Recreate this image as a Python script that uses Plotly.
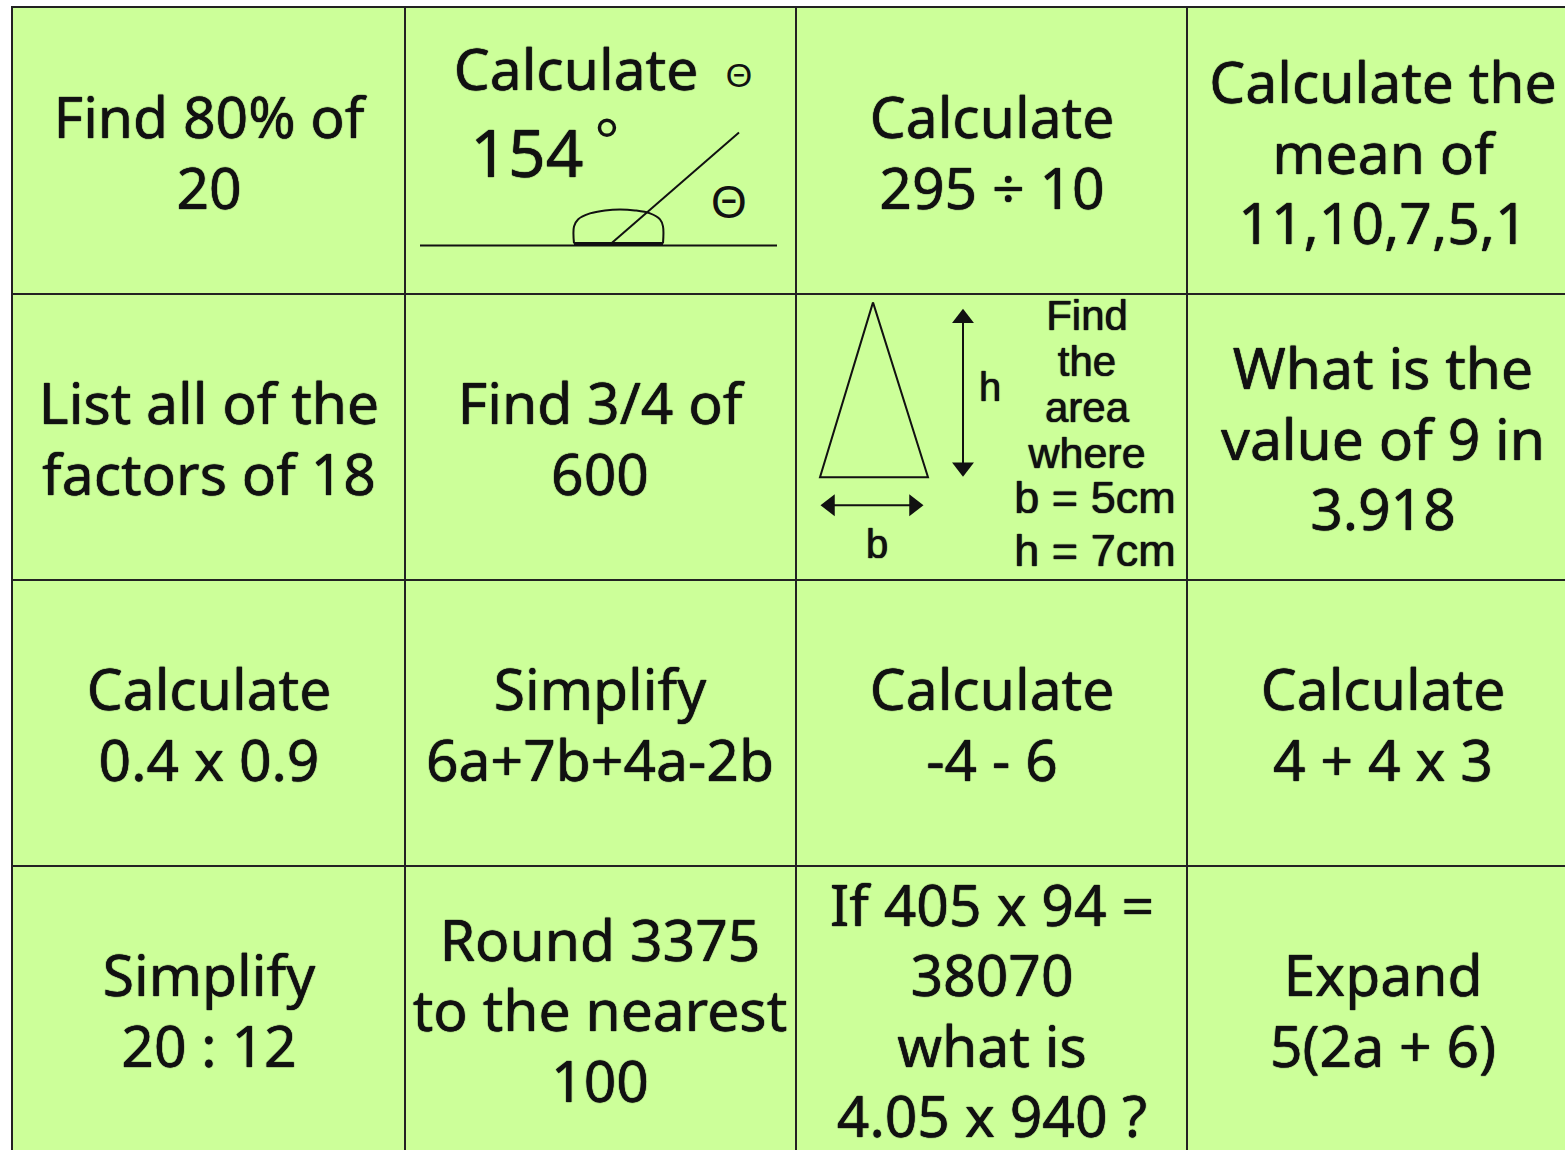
import plotly.graph_objects as go

# Grid of the worksheet in pixels
column_lines = [404.5, 796, 1187]
row_lines = [294, 580, 866]
column_centers = [209, 600, 992, 1383]
row_centers = [159, 445, 731, 1017]
line_step = 70.5

# Text of each cell, row by row
cells = [
    [["Find 80% of", "20"], [], ["Calculate", "295 ÷ 10"], ["Calculate the", "mean of", "11,10,7,5,1"]],
    [["List all of the", "factors of 18"], ["Find 3/4 of", "600"], [], ["What is the", "value of 9 in", "3.918"]],
    [["Calculate", "0.4 x 0.9"], ["Simplify", "6a+7b+4a-2b"], ["Calculate", "-4 - 6"], ["Calculate", "4 + 4 x 3"]],
    [["Simplify", "20 : 12"], ["Round 3375", "to the nearest", "100"], ["If 405 x 94 =", "38070", "what is", "4.05 x 940 ?"], ["Expand", "5(2a + 6)"]],
]

# Angle diagram
base_x = [420, 777]
base_y = [245, 245]
ray_x = [610, 739]
ray_y = [244, 132]
arc_x = [574, 574, 578, 590, 605, 620, 635, 650, 660, 663, 663]
arc_y = [243, 226, 219, 213, 210, 209, 210, 213, 219, 226, 243]
arc_floor_x = [574, 663]
arc_floor_y = [243, 243]
angle_text = ["Calculate", "154"]
angle_text_x = [576, 527]
angle_text_y = [75, 160]
angle_text_size = [57, 66]
theta_text = ["Θ", "Θ", "°"]
theta_text_x = [739, 729, 607]
theta_text_y = [78, 206, 148]
theta_text_size = [34, 46, 66]

# Triangle diagram
triangle_x = [873, 820, 928, 873]
triangle_y = [302, 477, 477, 302]
height_x = [963, 963]
height_y = [312, 472]
width_x = [826, 918]
width_y = [505, 505]
arrow_x = [963, 963, 830, 914]
arrow_y = [318, 467, 505, 505]
arrow_symbols = ["triangle-up", "triangle-down", "triangle-left", "triangle-right"]
triangle_text = ["h", "b", "Find", "the", "area", "where", "b = 5cm", "h = 7cm"]
triangle_text_x = [990, 877, 1087, 1087, 1087, 1087, 1095, 1095]
triangle_text_y = [391, 548, 319, 365, 411, 457, 501, 554]
triangle_text_size = [40, 40, 42, 42, 42, 43, 45, 45]

INK = "#111111"
FONT = "Noto Sans"
SMALL_FONT = "Liberation Sans"
HEAVY = "0 0 1px #111111, 0 0 1px #111111"

fig = go.Figure()

# cell text
xs, ys, labels = [], [], []
for r, row in enumerate(cells):
    for c, lines in enumerate(row):
        for i, line in enumerate(lines):
            xs.append(column_centers[c])
            ys.append(row_centers[r] + (i - (len(lines) - 1) / 2) * line_step)
            labels.append(line)
fig.add_trace(go.Scatter(x=xs, y=ys, text=labels, mode="text", hoverinfo="skip",
                         textfont=dict(family=FONT, size=57, color=INK, shadow=HEAVY)))

# line drawings
for lx, ly, w, shape in [(base_x, base_y, 2, "linear"), (ray_x, ray_y, 2, "linear"), (arc_x, arc_y, 2, "spline"),
                         (arc_floor_x, arc_floor_y, 3, "linear"), (triangle_x, triangle_y, 2, "linear"),
                         (height_x, height_y, 2, "linear"), (width_x, width_y, 2, "linear")]:
    fig.add_trace(go.Scatter(x=lx, y=ly, mode="lines", hoverinfo="skip", line=dict(color=INK, width=w, shape=shape)))

fig.add_trace(go.Scatter(x=arrow_x, y=arrow_y, mode="markers", hoverinfo="skip",
                         marker=dict(symbol=arrow_symbols, size=19, color=INK, line_width=0)))

fig.add_trace(go.Scatter(x=angle_text_x, y=angle_text_y, text=angle_text, mode="text", hoverinfo="skip",
                         textfont=dict(family=FONT, size=angle_text_size, color=INK, shadow=HEAVY)))
fig.add_trace(go.Scatter(x=theta_text_x, y=theta_text_y, text=theta_text, mode="text", hoverinfo="skip",
                         textfont=dict(family=SMALL_FONT, size=theta_text_size, color=INK)))
fig.add_trace(go.Scatter(x=triangle_text_x, y=triangle_text_y, text=triangle_text, mode="text", hoverinfo="skip",
                         textfont=dict(family=SMALL_FONT, size=triangle_text_size, color=INK, shadow=HEAVY)))

axis_style = dict(showgrid=True, gridcolor="#222222", gridwidth=2, zeroline=False, showticklabels=False,
                  ticks="", showline=True, linecolor="#222222", linewidth=2, mirror=False, fixedrange=True)
fig.update_xaxes(range=[13, 1565], tickmode="array", tickvals=column_lines, side="top", **axis_style)
fig.update_yaxes(range=[1150, 7.5], tickmode="array", tickvals=row_lines, **axis_style)

fig.update_layout(width=1565, height=1150, margin=dict(l=13, r=0, t=7.5, b=0), showlegend=False,
                  paper_bgcolor="white", plot_bgcolor="#CCFF99")

fig.write_html("out.html", config=dict(displayModeBar=False), post_script="document.body.style.margin='0';")
